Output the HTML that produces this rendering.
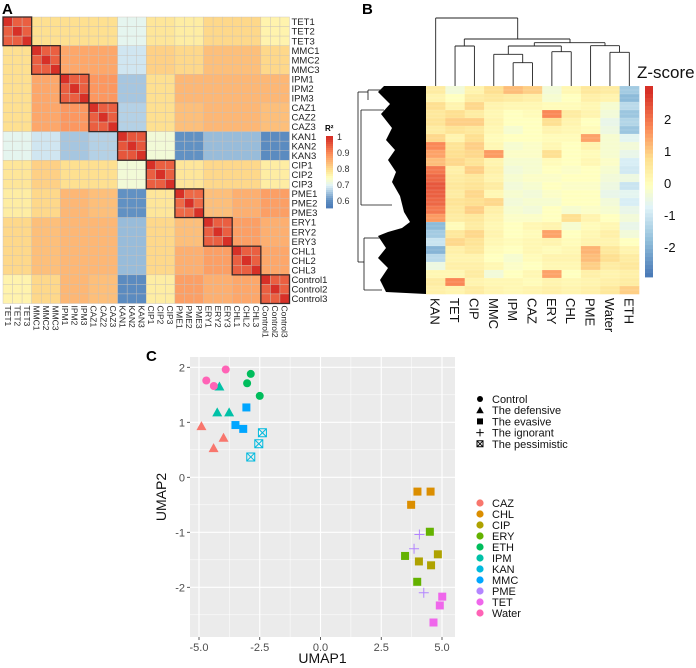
<!DOCTYPE html>
<html><head><meta charset="utf-8">
<style>
html,body{margin:0;padding:0;background:#fff;}
svg{display:block;font-family:"Liberation Sans",Arial,sans-serif;}
</style></head>
<body>
<svg id="fig" width="696" height="668" viewBox="0 0 696 668" xmlns="http://www.w3.org/2000/svg">
<text x="2" y="14" font-size="15" font-weight="bold">A</text>
<text x="362" y="14" font-size="15" font-weight="bold">B</text>
<text x="146" y="361" font-size="15" font-weight="bold">C</text>
<g id="gA"></g>
<g id="gB"></g>
<g id="gC"></g>
</svg>
<script>
// ---------- Panel A data ----------
const groupsA = ["TET","MMC","IPM","CAZ","KAN","CIP","PME","ERY","CHL","Control"];
const groupR2 = [
 [0.95,0.80,0.80,0.80,0.71,0.79,0.78,0.81,0.81,0.77],
 [0.80,0.95,0.87,0.87,0.69,0.82,0.81,0.84,0.84,0.81],
 [0.80,0.87,0.95,0.89,0.66,0.80,0.85,0.85,0.85,0.85],
 [0.80,0.87,0.89,0.95,0.67,0.80,0.84,0.85,0.85,0.84],
 [0.71,0.69,0.66,0.67,0.96,0.73,0.61,0.65,0.65,0.60],
 [0.79,0.82,0.80,0.80,0.73,0.95,0.79,0.81,0.81,0.78],
 [0.78,0.81,0.85,0.84,0.61,0.79,0.94,0.84,0.86,0.88],
 [0.81,0.84,0.85,0.85,0.65,0.81,0.84,0.95,0.88,0.86],
 [0.81,0.84,0.85,0.85,0.65,0.81,0.86,0.88,0.95,0.87],
 [0.77,0.81,0.85,0.84,0.60,0.78,0.88,0.86,0.87,0.95]];
const legendTicksA = [1,0.9,0.8,0.7,0.6];

// ---------- Panel B data ----------
const colsB = ["KAN","TET","CIP","MMC","IPM","CAZ","ERY","CHL","PME","Water","ETH"];
const zRows = [
 [0.5,-0.3,0.3,0.8,1.2,1.0,-0.3,0.2,0.6,0.5,-1.5],
 [0.3,0,0.5,0.6,0.5,0.4,-0.2,0,0.4,0.3,-1.8],
 [0.8,0.3,0.9,0.3,0.2,0.2,0.1,0.1,0.2,-0.2,-1.2],
 [0.6,0.8,0.5,0.2,0,0.1,1.8,0.5,0.3,-0.3,-1.6],
 [0.7,1.0,1.0,0.3,0,0,0.8,0.3,0,-0.5,-1.3],
 [0.5,0.7,0.6,0.2,-0.2,0,0.3,0.2,0.1,-0.4,-1.6],
 [0.9,0.3,0.8,0.1,0,0,0.1,0.1,1.5,-0.2,-0.6],
 [1.8,0.7,1.0,0.2,-0.2,-0.1,0.2,0,0.3,-0.2,-0.3],
 [1.5,0.8,0.9,1.6,-0.1,-0.1,0.8,0,0.1,-0.2,-0.5],
 [1.2,0.9,0.7,0.3,-0.2,-0.2,0.1,0,0.2,-0.1,-0.8],
 [2.0,0.4,1.0,0.4,-0.3,-0.2,0,-0.1,0,-0.2,-0.9],
 [2.2,0.5,0.6,0.3,-0.2,-0.1,-0.1,0,0,-0.3,-0.4],
 [2.4,0.6,0.7,0.5,-0.3,-0.2,0,-0.1,-0.1,-0.4,-1.0],
 [2.3,0.5,0.9,0.2,-0.2,-0.3,-0.1,0,0,-0.5,-0.6],
 [2.2,0.7,0.8,0.9,-0.3,-0.2,-0.2,0,0,-0.3,-0.8],
 [2.0,0.6,1.0,0.4,-0.2,-0.3,0,-0.2,-0.1,-0.2,-0.5],
 [1.6,0.5,0.6,0.3,-0.1,-0.1,0,0.8,0.3,0,-0.3],
 [-1.8,0.1,0.5,0.2,0,0.2,0.3,-0.2,0.1,0.2,-0.5],
 [-1.5,0.6,0.9,0.3,0,0.1,1.5,0,0.2,0.4,-0.3],
 [-1.0,0.9,0.7,0.2,0.1,0.2,0.3,0.1,0.3,0.3,0],
 [-1.9,0.4,0.6,0.1,0,0.2,0.1,0.2,1.3,0.6,0.3],
 [-1.2,0.3,0.3,0,-0.2,0.1,0.3,0.3,1.2,0.8,0.5],
 [-0.4,0.4,0.4,0.2,-0.1,0,0.2,0.2,1.0,0.5,0.6],
 [0.2,0.2,0.5,-0.3,0,0.2,1.5,0,0.4,0.3,0.4],
 [0.5,1.8,0.3,0.2,0.2,0.1,0.3,0.2,0.3,0.4,0.5],
 [0.4,0.3,0.5,0.3,0.2,0.3,0.4,0.3,0.4,0.6,1.0]];
const zTicks = [2,1,0,-1,-2];

// ---------- Panel C data ----------
const umapGroups = ["CAZ","CHL","CIP","ERY","ETH","IPM","KAN","MMC","PME","TET","Water"];
const umapColors = ["#F8766D","#DB8E00","#AEA200","#64B200","#00BD5C","#00C1A7","#00BADE","#00A6FF","#B385FF","#EF67EB","#FF63B6"];
const shapeNames = ["Control","The defensive","The evasive","The ignorant","The pessimistic"];
const groupShape = {CAZ:1,CHL:2,CIP:2,ERY:2,ETH:0,IPM:1,KAN:4,MMC:2,PME:3,TET:2,Water:0};
const umapX = {
 Water:[-4.70,-4.39,-3.90], ETH:[-2.87,-3.02,-2.50], IPM:[-4.16,-4.25,-3.76],
 CAZ:[-4.90,-3.99,-4.40], MMC:[-3.05,-3.50,-3.18], KAN:[-2.39,-2.54,-2.87],
 CHL:[3.99,4.53,3.73], ERY:[4.50,3.48,3.98], CIP:[4.83,4.05,4.55],
 PME:[4.07,3.85,4.25], TET:[5.01,4.91,4.65]};
const umapY = {
 Water:[1.76,1.66,1.96], ETH:[1.88,1.71,1.48], IPM:[1.65,1.18,1.18],
 CAZ:[0.93,0.72,0.53], MMC:[1.27,0.95,0.88], KAN:[0.81,0.61,0.37],
 CHL:[-0.26,-0.26,-0.50], ERY:[-0.99,-1.43,-1.90], CIP:[-1.40,-1.53,-1.60],
 PME:[-1.04,-1.30,-2.10], TET:[-2.17,-2.33,-2.64]};
const xTicksC = [-5,-2.5,0,2.5,5];
const yTicksC = [2,1,0,-1,-2];

const NS="http://www.w3.org/2000/svg";
function mk(parent,tag,attrs,text){const e=document.createElementNS(NS,tag);for(const k in attrs)e.setAttribute(k,attrs[k]);if(text!==undefined)e.textContent=text;parent.appendChild(e);return e;}
function hex(h){return [parseInt(h.slice(1,3),16),parseInt(h.slice(3,5),16),parseInt(h.slice(5,7),16)];}
function makeRamp(stops){return function(t){t=Math.max(0,Math.min(1,t));for(let i=1;i<stops.length;i++){if(t<=stops[i][0]){const a=hex(stops[i-1][1]),b=hex(stops[i][1]);const f=(t-stops[i-1][0])/(stops[i][0]-stops[i-1][0]);return "rgb("+a.map((v,j)=>Math.round(v+(b[j]-v)*f)).join(",")+")";}}return stops[stops.length-1][1];};}
const rampB=makeRamp([[0,"#4575b4"],[0.2,"#91bfdb"],[0.38,"#e0f3f8"],[0.5,"#ffffbf"],[0.64,"#fee090"],[0.8,"#fc8d59"],[1,"#d73027"]]);
const rampA=makeRamp([[0,"#4575b4"],[0.12,"#5f8fc2"],[0.33,"#e0f3f8"],[0.44,"#ffffbf"],[0.55,"#fee090"],[0.78,"#fc8d59"],[1,"#d73027"]]);

// ===== Panel A =====
(function(){
 const g=document.getElementById('gA');
 const x0=3,y0=17,cell=9.55,n=30;
 const vmin=0.555,vmax=1;
 const col=v=>rampA((v-vmin)/(vmax-vmin));
 for(let i=0;i<n;i++)for(let j=0;j<n;j++){
   const gi=Math.floor(i/3),gj=Math.floor(j/3);
   const v=(i===j)?1:groupR2[gi][gj];
   const r=mk(g,'rect',{x:x0+j*cell,y:y0+i*cell,width:cell,height:cell,fill:col(v),stroke:'#c8c0b8','stroke-width':0.4});
   
   
 }
 for(let k=0;k<10;k++){
   const b=mk(g,'rect',{x:x0+k*3*cell,y:y0+k*3*cell,width:3*cell,height:3*cell,fill:'none',stroke:'#3a2a2a','stroke-width':1.3});
   
   
 }
 for(let i=0;i<n;i++){
   const lab=groupsA[Math.floor(i/3)]+(i%3+1);
   const t=mk(g,'text',{x:x0+n*cell+2,y:y0+i*cell+cell/2+3.4,'font-size':9.5,fill:'#222'},lab);
   
   
   const cx=x0+i*cell+cell/2;
   const t2=mk(g,'text',{x:0,y:0,'font-size':8.5,fill:'#222',transform:`translate(${cx-3},${y0+n*cell+2}) rotate(90)`},lab);
   
   
 }
 const lt=mk(g,'text',{x:325,y:131,'font-size':8,'font-weight':'bold'},'R²');
 
 
 const by0=136,by1=208,bx=326;
 const vy=v=>137+(1-v)*160;
 for(let k=0;k<36;k++){
   const yy=by0+k*(by1-by0)/36;
   const v=1-(yy-137)/160;
   const s=mk(g,'rect',{x:bx,y:yy,width:7,height:(by1-by0)/36+0.4,fill:col(v)});
   
   
 }
 legendTicksA.forEach(v=>{
   const t=mk(g,'text',{x:337,y:vy(v)+3,'font-size':9,fill:'#333'},String(v));
   
   
 });
})();

// ===== Panel B =====
(function(){
 const g=document.getElementById('gB');
 const x0=426,x1=639,y0=86,y1=294;
 const cw=(x1-x0)/colsB.length,rh=(y1-y0)/zRows.length;
 const zc=z=>rampB((z+2.9)/5.8);
 zRows.forEach((row,i)=>row.forEach((v,j)=>{
   const r=mk(g,'rect',{x:x0+j*cw,y:y0+i*rh,width:cw+0.3,height:rh+0.3,fill:zc(v)});
   
   
 }));
 for(let i=0;i<52;i++){
   const l=mk(g,'line',{x1:x0,x2:x1,y1:y0+i*rh/2,y2:y0+i*rh/2,stroke:'#ffffff','stroke-width':0.4,opacity:0.35});
   
   
 }
 colsB.forEach((c,j)=>{
   const cx=x0+j*cw+cw/2;
   const t=mk(g,'text',{x:0,y:0,'font-size':13,fill:'#111',transform:`translate(${cx-5},${y1+4}) rotate(90)`},c);
   
   
 });
 const lx=j=>x0+j*cw+cw/2;
 const L=86;
 const segs=[
  [lx(0),lx(0),L,18],[lx(0),517.7,18,18],[517.7,517.7,18,39],
  [lx(1),lx(1),L,46],[lx(2),lx(2),L,46],[lx(1),lx(2),46,46],
  [464.3,464.3,46,39],[464.3,570,39,39],[570,570,39,42.7],
  [534.3,605,42.7,42.7],[605,605,42.7,45.7],
  [lx(3),lx(3),L,54.3],[lx(3),522.7,54.3,54.3],
  [lx(4),lx(4),L,62.7],[lx(5),lx(5),L,62.7],[lx(4),lx(5),62.7,62.7],[522.7,522.7,62.7,54.3],
  [508.3,508.3,54.3,46],[508.3,561.3,46,46],[561.3,561.3,46,51.7],
  [lx(6),lx(6),L,51.7],[lx(7),lx(7),L,51.7],[lx(6),lx(7),51.7,51.7],
  [534.3,534.3,46,42.7],
  [lx(8),lx(8),L,45.7],[619.5,619.5,45.7,52.3],[lx(8),619.5,45.7,45.7],
  [lx(9),lx(9),L,52.3],[lx(10),lx(10),L,52.3],[lx(9),lx(10),52.3,52.3]
 ];
 segs.forEach(s=>{
   const l=mk(g,'line',{x1:s[0],x2:s[1],y1:s[2],y2:s[3],stroke:'#222','stroke-width':0.9});
   
   
 });
 const p=mk(g,'path',{d:'M426,86 L384,86 L378,92 L390,104 L381,114 L392,128 L386,140 L395,150 L388,160 L396,172 L392,182 L400,196 L404,212 L410,222 L402,228 L388,232 L378,236 L386,248 L378,258 L388,268 L380,280 L386,292 L426,294 Z',fill:'#000'});
 
 
 [[358,358,92,262],[358,368,92,92],[358,364,262,262],[364,364,238,290],[364,380,238,238],[364,382,290,290],
  [361,361,110,205],[361,384,110,110],[361,392,205,205],[368,368,90,100],[368,384,90,90]].forEach(s=>{
   const l=mk(g,'line',{x1:s[0],x2:s[1],y1:s[2],y2:s[3],stroke:'#111','stroke-width':0.8});
   
   
 });
 const zy=z=>183-z*32;
 for(let k=0;k<48;k++){
   const yy=86+k*(277-86)/48;
   const z=(183-yy)/32;
   const s=mk(g,'rect',{x:645,y:yy,width:8,height:(277-86)/48+0.4,fill:zc(z)});
   
   
 }
 const tt=mk(g,'text',{x:637,y:78,'font-size':17,fill:'#111'},'Z-score');
 
 
 zTicks.forEach(z=>{
   const t=mk(g,'text',{x:664,y:zy(z)+5,'font-size':13,fill:'#111'},String(z));
   
   
 });
})();

// ===== Panel C =====
(function(){
 const g=document.getElementById('gC');
 const L=190,R=455,T=357,B=637;
 const sx=v=>320.5+v*24.3;
 const sy=v=>477.3-v*55;
 const bg=mk(g,'rect',{x:L,y:T,width:R-L,height:B-T,fill:'#EBEBEB'});
 
 
 [-3.75,-1.25,1.25,3.75].forEach(v=>{const l=mk(g,'line',{x1:sx(v),x2:sx(v),y1:T,y2:B,stroke:'#fff','stroke-width':0.5});});
 [2.5,1.5,0.5,-0.5,-1.5,-2.5].forEach(v=>{const l=mk(g,'line',{x1:L,x2:R,y1:sy(v),y2:sy(v),stroke:'#fff','stroke-width':0.5});});
 xTicksC.forEach(v=>{
   const l=mk(g,'line',{x1:sx(v),x2:sx(v),y1:T,y2:B,stroke:'#fff','stroke-width':1.1});
   
   
   const tk=mk(g,'line',{x1:sx(v),x2:sx(v),y1:B,y2:B+3,stroke:'#333','stroke-width':0.8});
   
   
   const t=mk(g,'text',{x:sx(v),y:B+14,'font-size':11,fill:'#4D4D4D','text-anchor':'middle'},v.toFixed(1));
   
   
 });
 yTicksC.forEach(v=>{
   const l=mk(g,'line',{x1:L,x2:R,y1:sy(v),y2:sy(v),stroke:'#fff','stroke-width':1.1});
   
   
   const tk=mk(g,'line',{x1:L-3,x2:L,y1:sy(v),y2:sy(v),stroke:'#333','stroke-width':0.8});
   
   
   const t=mk(g,'text',{x:L-5,y:sy(v)+4,'font-size':11,fill:'#4D4D4D','text-anchor':'end'},String(v));
   
   
 });
 const xt=mk(g,'text',{x:(L+R)/2,y:663,'font-size':14,fill:'#111','text-anchor':'middle'},'UMAP1');
 
 
 const yt=mk(g,'text',{x:0,y:0,'font-size':14,fill:'#111','text-anchor':'middle',transform:`translate(166,${(T+B)/2}) rotate(-90)`},'UMAP2');
 
 

 function shape(parent,type,cx,cy,color,s){
   let e;
   if(type===0)e=mk(parent,'circle',{cx:cx,cy:cy,r:4*s,fill:color});
   else if(type===1)e=mk(parent,'path',{d:`M${cx},${cy-5*s} L${cx+5*s},${cy+4*s} L${cx-5*s},${cy+4*s} Z`,fill:color});
   else if(type===2)e=mk(parent,'rect',{x:cx-4*s,y:cy-4*s,width:8*s,height:8*s,fill:color});
   else if(type===3)e=mk(parent,'path',{d:`M${cx-5*s},${cy} H${cx+5*s} M${cx},${cy-5*s} V${cy+5*s}`,stroke:color,'stroke-width':1,fill:'none'});
   else e=mk(parent,'path',{d:`M${cx-4*s},${cy-4*s} h${8*s} v${8*s} h${-8*s} Z M${cx-4*s},${cy-4*s} L${cx+4*s},${cy+4*s} M${cx+4*s},${cy-4*s} L${cx-4*s},${cy+4*s}`,stroke:color,'stroke-width':1,fill:'none'});
   return e;
 }
 umapGroups.forEach((grp,gi)=>{
   umapX[grp].forEach((xv,k)=>{
     const e=shape(g,groupShape[grp],sx(xv),sy(umapY[grp][k]),umapColors[gi],1);
     
     
   });
 });
 shapeNames.forEach((nm,i)=>{
   const y=399+i*11.2;
   const e=shape(g,i,480,y,'#000',0.75);
   
   
   const t=mk(g,'text',{x:492,y:y+4,'font-size':11,fill:'#111'},nm);
   
   
 });
 umapGroups.forEach((nm,i)=>{
   const y=503+i*11;
   const c=mk(g,'circle',{cx:480,cy:y,r:3.6,fill:umapColors[i]});
   
   
   const t=mk(g,'text',{x:492,y:y+4,'font-size':11,fill:'#111'},nm);
   
   
 });
})();
</script>
</body></html>
